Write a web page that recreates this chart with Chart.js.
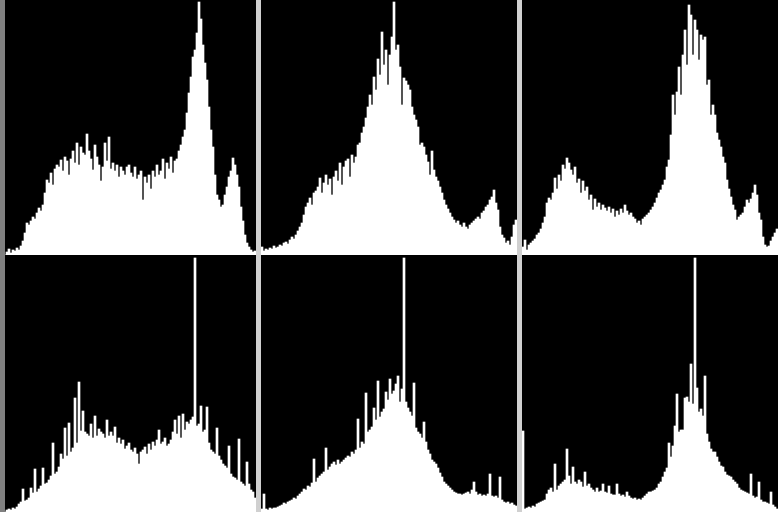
<!DOCTYPE html>
<html>
<head>
<meta charset="utf-8">
<script src="https://cdn.jsdelivr.net/npm/chart.js@4/dist/chart.umd.min.js"></script>
<style>
  html, body { margin: 0; padding: 0; background: #000; overflow: hidden; }
  #wrap { position: relative; width: 778px; height: 512px; background: #000; }
  canvas { position: absolute; display: block; }
  .sep { position: absolute; top: 0; height: 512px; }
</style>
</head>
<body>
<div id="wrap">
  <canvas id="c1" width="256" height="255" style="left:0;top:0"></canvas>
  <canvas id="c2" width="256" height="255" style="left:261px;top:0"></canvas>
  <canvas id="c3" width="256" height="255" style="left:522px;top:0"></canvas>
  <canvas id="c4" width="256" height="255" style="left:0;top:257px"></canvas>
  <canvas id="c5" width="256" height="255" style="left:261px;top:257px"></canvas>
  <canvas id="c6" width="256" height="255" style="left:522px;top:257px"></canvas>
  <div class="sep" style="left:0;width:5px;background:#808080"></div>
  <div class="sep" style="left:256px;width:5px;background:#d0d0d0"></div>
  <div class="sep" style="left:517px;width:5px;background:#d0d0d0"></div>
</div>
<script>
// Histogram bins: 128 bins per panel (each bin = 2 intensity levels)
const binLabels = Array.from({ length: 128 }, (_, i) => String(i * 2));

// Top row histograms (pixel counts, scaled 0..255)
const top1 = [
  0,0,0,
  3,6,2,5,4,7,5,9,
  14,22,32,30,34,
  38,36,42,47,44,50,62,
  75,72,82,70,86,90,
  88,95,84,98,94,80,96,
  104,92,112,90,108,102,100,
  121,104,96,85,110,98,90,
  74,88,112,94,118,86,92,84,
  90,78,88,84,80,88,90,
  82,78,88,76,80,84,55,
  78,72,80,66,84,78,90,
  80,84,96,76,92,86,98,
  82,94,96,104,
  110,118,125,142,162,178,198,205,222,253,236,210,192,175,148,125,108,80,60,55,
  48,50,60,68,78,84,97,90,80,68,48,34,20,12,8,5,3,4
];
const top2 = [
  8,4,6,5,7,6,9,7,8,10,9,12,
  13,11,15,18,16,20,
  24,28,32,40,48,52,
  57,50,62,64,68,77,
  62,72,80,70,76,60,
  78,84,74,92,70,88,
  94,96,78,100,92,98,
  110,112,122,128,137,148,
  160,150,178,165,196,180,
  223,190,205,170,200,218,
  253,205,210,188,150,177,
  174,170,165,148,140,135,
  128,110,112,108,100,93,
  80,104,85,78,74,68,
  62,55,50,46,42,38,
  35,32,34,30,28,32,
  28,26,30,32,34,36,
  38,36,42,44,48,50,
  55,58,65,52,45,28,
  20,17,12,14,10,18,
  30,35
];
const top3 = [
  8,15,5,10,12,14,
  16,20,22,26,32,38,
  52,57,55,62,77,66,
  80,74,90,86,97,92,
  85,80,88,72,76,62,
  74,64,68,55,60,45,
  56,48,52,45,50,47,
  44,48,42,46,38,44,
  40,46,42,50,44,40,
  42,38,36,32,34,30,
  36,38,40,42,45,48,
  52,57,62,65,70,75,
  88,95,120,160,140,163,
  188,160,200,225,190,250,
  240,200,235,225,195,220,
  215,218,170,175,140,150,
  140,122,115,108,98,92,
  75,66,58,50,45,35,
  38,40,42,48,55,52,
  56,62,70,60,42,35,
  18,10,8,9,14,18,
  22,26
];

// Bottom row histograms
const bot1 = [
  0,0,0,
  2,3,2,4,3,5,8,
  10,23,11,12,14,24,
  19,43,20,23,26,44,
  28,29,32,36,69,38,
  40,45,58,53,84,56,
  89,60,64,114,69,130,
  81,101,80,78,76,88,
  74,96,76,83,80,78,
  74,92,76,80,76,85,
  69,74,68,72,63,66,
  69,62,60,64,58,48,
  60,62,65,58,68,62,
  70,66,72,82,68,70,
  74,66,68,72,80,92,
  78,96,74,98,82,90,
  88,92,95,254,86,88,
  106,80,82,105,69,62,
  60,58,84,56,52,48,
  46,44,66,38,35,34,
  32,73,30,28,26,50,
  28,22,20,14
];
const bot2 = [
  3,18,3,2,4,3,
  4,4,5,6,7,9,
  8,10,11,12,14,13,
  16,18,20,23,22,26,
  25,29,53,30,34,36,
  38,40,64,42,45,48,
  50,47,52,48,50,52,
  54,56,55,60,58,62,
  93,64,70,68,119,80,
  82,85,104,92,131,95,
  100,103,120,112,133,118,
  121,128,136,110,123,254,
  110,104,100,96,129,84,
  80,78,74,90,70,62,
  58,52,50,48,44,39,
  35,30,28,26,24,22,
  20,19,18,18,17,18,
  19,20,18,22,30,20,
  17,18,16,17,16,18,
  38,16,15,16,14,35,
  12,10,9,10,8,9,
  7,6
];
const bot3 = [
  81,3,4,5,4,6,
  5,8,9,10,11,12,
  18,22,24,20,48,22,
  26,28,30,32,63,36,
  28,45,30,28,32,30,
  25,40,26,28,24,22,
  20,24,20,21,28,20,
  19,26,18,17,17,28,
  18,16,17,15,20,16,
  14,13,14,12,13,12,
  14,16,18,20,20,21,
  22,24,28,30,35,40,
  44,69,55,66,86,118,
  80,82,82,114,115,110,
  148,108,254,124,100,103,
  96,136,78,70,63,60,
  60,55,50,46,45,40,
  37,36,35,32,30,28,
  24,22,21,20,19,18,
  38,16,14,15,30,12,
  10,10,9,8,20,7,
  5,3
];

const yMax = 255;

function makeChart(id, values) {
  new Chart(document.getElementById(id), {
    type: 'bar',
    data: {
      labels: binLabels,
      datasets: [{
        data: values,
        backgroundColor: '#ffffff',
        borderWidth: 0,
        barPercentage: 1,
        categoryPercentage: 1
      }]
    },
    options: {
      responsive: false,
      animation: false,
      devicePixelRatio: 1,
      layout: { padding: 0 },
      plugins: { legend: { display: false }, tooltip: { enabled: false } },
      scales: {
        x: { display: false },
        y: { display: false, min: 0, max: yMax }
      }
    }
  });
}

makeChart('c1', top1);
makeChart('c2', top2);
makeChart('c3', top3);
makeChart('c4', bot1);
makeChart('c5', bot2);
makeChart('c6', bot3);
</script>
</body>
</html>
